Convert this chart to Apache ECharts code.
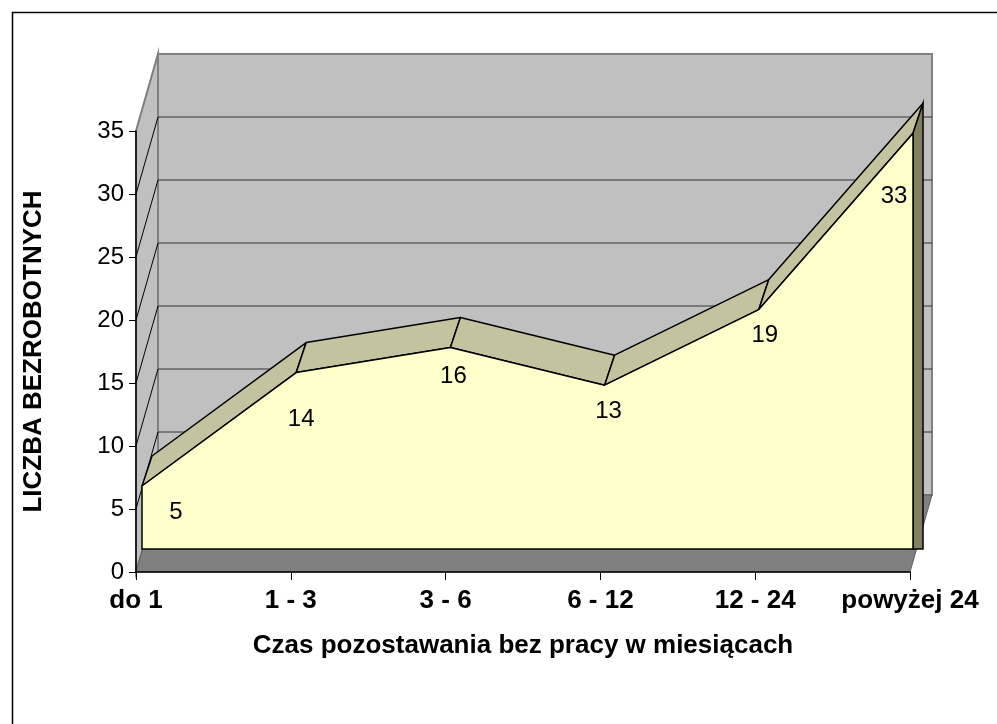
<!DOCTYPE html>
<html><head><meta charset="utf-8">
<script src="https://cdn.jsdelivr.net/npm/echarts@6/dist/echarts.min.js"></script>
<style>html,body{margin:0;padding:0;background:#fff}#c{width:997px;height:724px}</style>
</head><body><div id="c"></div>
<script>
const CATEGORIES = ['do 1', '1 - 3', '3 - 6', '6 - 12', '12 - 24', 'powyżej 24'];
const VALUES = [5, 14, 16, 13, 19, 33];
const Y_TICKS = [0, 5, 10, 15, 20, 25, 30, 35];
const X_TITLE = 'Czas pozostawania bez pracy w miesiącach';
const Y_TITLE = 'LICZBA BEZROBOTNYCH';

// 3D look: pixel offsets (style only)
const WALL_DEPTH = [22, -77];
const FRONT_OFF = [6, -23];
const SLAB_DEPTH = [10, -30];
const LABEL_NUDGE = [[34, 26], [5, 47], [3, 29], [4, 26], [6, 26], [-19, 63]];
const FONT = 'Arial, "Liberation Sans", sans-serif';

const chart = echarts.init(document.getElementById('c'), null, {renderer: 'canvas'});

function renderWalls(params, api) {
  const n = CATEGORIES.length;
  const yMax = Y_TICKS[Y_TICKS.length - 1];
  const p0 = api.coord([0, 0]);
  const pN = api.coord([n - 1, 0]);
  const pT = api.coord([0, yMax]);
  const dx = WALL_DEPTH[0], dy = WALL_DEPTH[1];
  const ch = [];
  ch.push({type: 'polygon', shape: {points: [[p0[0] + dx, pT[1] + dy], [pN[0] + dx, pT[1] + dy], [pN[0] + dx, p0[1] + dy], [p0[0] + dx, p0[1] + dy]]},
    style: {fill: '#C0C0C0', stroke: '#808080', lineWidth: 2}});
  ch.push({type: 'polygon', shape: {points: [[p0[0], p0[1]], [p0[0], pT[1]], [p0[0] + dx, pT[1] + dy], [p0[0] + dx, p0[1] + dy]]},
    style: {fill: '#C0C0C0', stroke: '#808080', lineWidth: 2}});
  ch.push({type: 'polygon', shape: {points: [[p0[0], p0[1]], [pN[0], pN[1]], [pN[0] + dx, pN[1] + dy], [p0[0] + dx, p0[1] + dy]]},
    style: {fill: '#808080', stroke: '#606060', lineWidth: 1}});
  Y_TICKS.forEach(function (v) {
    if (v === 0 || v === yMax) return;
    const p = api.coord([0, v]);
    ch.push({type: 'line', shape: {x1: p[0] + dx, y1: p[1] + dy, x2: pN[0] + dx, y2: p[1] + dy}, style: {stroke: '#333333', lineWidth: 1}});
    ch.push({type: 'line', shape: {x1: p[0], y1: p[1], x2: p[0] + dx, y2: p[1] + dy}, style: {stroke: '#000000', lineWidth: 1}});
  });
  return {type: 'group', children: ch};
}

function renderSlab(params, api) {
  const n = VALUES.length;
  const F = [], base = [];
  for (let i = 0; i < n; i++) {
    const p = api.coord([i, VALUES[i]]);
    const b = api.coord([i, 0]);
    const ox = FRONT_OFF[0] - 3 * i / (n - 1);
    F.push([p[0] + ox, p[1] + FRONT_OFF[1]]);
    base.push([b[0] + ox, b[1] + FRONT_OFF[1]]);
  }
  const sx = SLAB_DEPTH[0], sy = SLAB_DEPTH[1];
  const ch = [];
  for (let i = 0; i < n - 1; i++) {
    ch.push({type: 'polygon', shape: {points: [F[i], F[i + 1], [F[i + 1][0] + sx, F[i + 1][1] + sy], [F[i][0] + sx, F[i][1] + sy]]},
      style: {fill: '#C3C3A0', stroke: '#000', lineWidth: 1.5, lineJoin: 'round'}});
  }
  const L = F[n - 1], LB = base[n - 1];
  ch.push({type: 'polygon', shape: {points: [L, [L[0] + sx, L[1] + sy], [L[0] + sx, LB[1]], LB]},
    style: {fill: '#808060', stroke: '#000', lineWidth: 1.5}});
  const pts = F.slice();
  pts.push(base[n - 1]);
  pts.push(base[0]);
  ch.push({type: 'polygon', shape: {points: pts}, style: {fill: '#FFFFCC', stroke: '#000', lineWidth: 1.5, lineJoin: 'round'}});
  for (let i = 0; i < n; i++) {
    ch.push({type: 'text', style: {text: String(VALUES[i]), x: F[i][0] + LABEL_NUDGE[i][0], y: F[i][1] + LABEL_NUDGE[i][1],
      align: 'center', verticalAlign: 'middle', font: '24px ' + FONT, fill: '#000'}});
  }
  return {type: 'group', children: ch};
}

const option = {
  animation: false,
  backgroundColor: '#fff',
  grid: {left: 136, right: 87, top: 131, bottom: 152, containLabel: false},
  xAxis: {
    type: 'category', data: CATEGORIES, boundaryGap: false, z: 10,
    name: X_TITLE, nameLocation: 'middle', nameGap: 61,
    nameTextStyle: {fontFamily: FONT, fontWeight: 'bold', fontSize: 26, color: '#000'},
    axisLine: {lineStyle: {color: '#000', width: 1.5}},
    axisTick: {show: true, length: 8, lineStyle: {color: '#000'}},
    axisLabel: {interval: 0, margin: 16, fontFamily: FONT, fontWeight: 'bold', fontSize: 26, color: '#000'},
    splitLine: {show: false}
  },
  yAxis: {
    type: 'value', min: 0, max: 35, interval: 5, z: 10,
    name: Y_TITLE, nameLocation: 'middle', nameRotate: 90, nameGap: 89,
    nameTextStyle: {fontFamily: FONT, fontWeight: 'bold', fontSize: 26, color: '#000'},
    axisLine: {show: true, lineStyle: {color: '#000', width: 1.5}},
    axisTick: {show: true, length: 7, lineStyle: {color: '#000'}},
    axisLabel: {margin: 12, fontFamily: FONT, fontSize: 24, color: '#000'},
    splitLine: {show: false}
  },
  graphic: [{type: 'rect', left: 10, top: 10, shape: {x: 0, y: 0, width: 1200, height: 1000}, style: {fill: 'none', stroke: '#000', lineWidth: 1.5}, silent: true}],
  series: [
    {type: 'custom', coordinateSystem: 'cartesian2d', data: [[0, 0]], renderItem: renderWalls, silent: true, clip: false, z: 1},
    {type: 'custom', coordinateSystem: 'cartesian2d', data: VALUES.map(function (v, i) { return [i, v]; }).slice(0, 1), renderItem: renderSlab, silent: true, clip: false, z: 2}
  ]
};
chart.setOption(option);
</script>
</body></html>
